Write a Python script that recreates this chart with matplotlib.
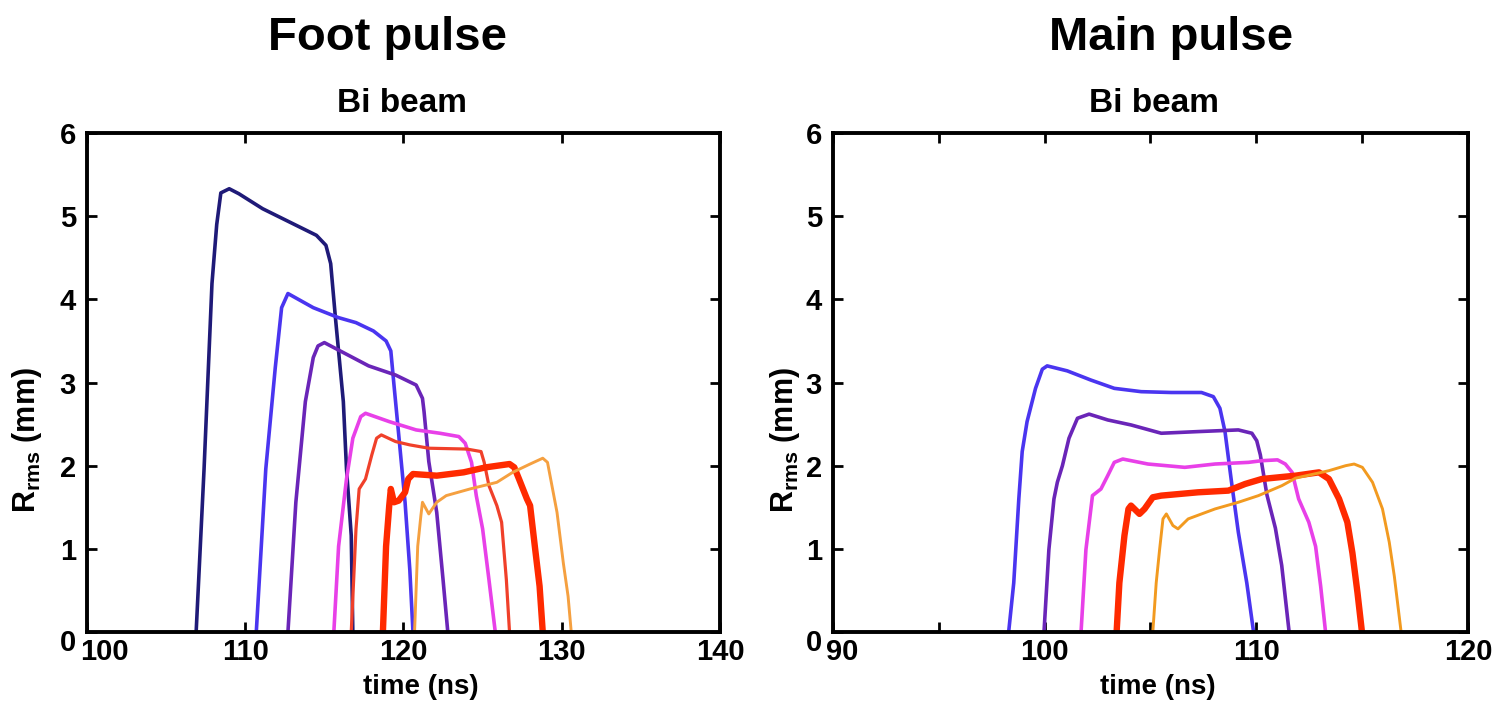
import matplotlib
matplotlib.use("Agg")
import matplotlib.pyplot as plt
from matplotlib.transforms import ScaledTranslation

plt.rcParams['font.family'] = ['Liberation Sans', 'DejaVu Sans']
plt.rcParams['font.weight'] = 'bold'
plt.rcParams['mathtext.default'] = 'regular'

# ---- Foot pulse (left panel) ----
foot_navy_t = [106.9, 107.4, 107.9, 108.2, 108.46, 108.99, 109.6, 111.1, 112.8, 114.5, 115.1, 115.4, 115.7, 116.2, 116.4, 116.7, 116.8]
foot_navy_r = [0.0, 1.96, 4.19, 4.90, 5.28, 5.33, 5.27, 5.09, 4.93, 4.77, 4.65, 4.43, 3.78, 2.77, 1.96, 1.16, 0.0]

foot_blue_t = [110.7, 111.3, 111.9, 112.3, 112.7, 114.3, 115.9, 117.0, 118.1, 118.9, 119.2, 119.4, 119.7, 120.1, 120.4, 120.6]
foot_blue_r = [0.0, 1.96, 3.18, 3.90, 4.07, 3.90, 3.78, 3.72, 3.62, 3.50, 3.38, 2.97, 2.37, 1.56, 0.75, 0.0]

foot_purple_t = [112.7, 113.2, 113.8, 114.3, 114.6, 115.0, 116.4, 117.8, 119.5, 120.8, 121.2, 121.3, 121.6, 122.1, 122.5, 122.8]
foot_purple_r = [0.0, 1.56, 2.77, 3.30, 3.44, 3.48, 3.34, 3.20, 3.09, 2.97, 2.81, 2.65, 2.05, 1.44, 0.63, 0.0]

foot_magenta_t = [115.6, 115.9, 116.4, 116.8, 117.3, 117.6, 119.1, 120.8, 122.3, 123.5, 123.9, 124.3, 124.6, 125.0, 125.4, 125.8]
foot_magenta_r = [0.0, 1.03, 1.84, 2.33, 2.59, 2.63, 2.53, 2.43, 2.39, 2.35, 2.27, 2.04, 1.64, 1.24, 0.63, 0.0]

foot_red_t = [116.7, 117.0, 117.2, 117.6, 118.0, 118.3, 118.6, 119.5, 120.4, 121.6, 124.0, 124.9, 125.1, 125.4, 125.9, 126.2, 126.5, 126.7]
foot_red_r = [0.0, 1.24, 1.72, 1.84, 2.13, 2.33, 2.37, 2.29, 2.25, 2.21, 2.20, 2.17, 2.04, 1.76, 1.52, 1.32, 0.63, 0.0]

foot_thick_t = [118.7, 118.9, 119.1, 119.2, 119.4, 119.7, 120.1, 120.3, 120.6, 122.1, 123.8, 125.2, 126.7, 127.0, 127.3, 127.8, 128.0, 128.3, 128.6, 128.8]
foot_thick_r = [0.0, 1.03, 1.52, 1.72, 1.56, 1.58, 1.68, 1.84, 1.90, 1.88, 1.92, 1.98, 2.02, 1.98, 1.84, 1.60, 1.52, 1.03, 0.55, 0.0]

foot_orange_t = [120.7, 120.9, 121.1, 121.2, 121.6, 122.1, 122.7, 124.2, 125.9, 126.9, 128.0, 128.8, 129.1, 129.7, 130.1, 130.4, 130.6]
foot_orange_r = [0.0, 1.03, 1.40, 1.56, 1.42, 1.56, 1.64, 1.72, 1.80, 1.92, 2.02, 2.09, 2.04, 1.44, 0.83, 0.43, 0.0]

# ---- Main pulse (right panel) ----
main_blue_t = [98.3, 98.54, 98.78, 98.94, 99.17, 99.57, 99.89, 100.12, 101.07, 102.18, 103.29, 104.56, 105.98, 107.41, 107.97, 108.28, 108.52, 108.83, 109.15, 109.55, 109.87]
main_blue_r = [0.0, 0.59, 1.60, 2.17, 2.53, 2.93, 3.16, 3.20, 3.14, 3.03, 2.93, 2.89, 2.88, 2.88, 2.83, 2.69, 2.41, 1.80, 1.20, 0.59, 0.0]

main_purple_t = [99.97, 100.2, 100.44, 100.6, 100.84, 101.15, 101.55, 102.1, 102.98, 104.08, 105.51, 107.25, 109.15, 109.79, 110.02, 110.19, 110.5, 110.9, 111.2, 111.55]
main_purple_r = [0.0, 0.99, 1.60, 1.80, 2.00, 2.33, 2.57, 2.62, 2.55, 2.49, 2.39, 2.41, 2.43, 2.39, 2.30, 2.13, 1.65, 1.25, 0.80, 0.0]

main_magenta_t = [101.72, 101.95, 102.26, 102.66, 102.98, 103.29, 103.69, 104.88, 106.62, 108.05, 109.63, 110.26, 111.0, 111.37, 111.69, 112.0, 112.48, 112.8, 113.04, 113.27]
main_magenta_r = [0.0, 0.99, 1.64, 1.72, 1.88, 2.04, 2.08, 2.02, 1.98, 2.02, 2.04, 2.06, 2.07, 2.02, 1.92, 1.60, 1.32, 1.03, 0.55, 0.0]

main_thick_t = [103.4, 103.53, 103.77, 103.96, 104.08, 104.48, 104.72, 105.11, 105.51, 107.25, 108.68, 109.47, 110.26, 111.85, 112.96, 113.43, 113.91, 114.30, 114.54, 114.78, 114.99]
main_thick_r = [0.0, 0.59, 1.16, 1.48, 1.52, 1.42, 1.48, 1.62, 1.64, 1.68, 1.70, 1.78, 1.84, 1.88, 1.92, 1.84, 1.60, 1.32, 0.95, 0.47, 0.0]

main_orange_t = [105.11, 105.27, 105.43, 105.59, 105.75, 106.06, 106.3, 106.78, 108.05, 109.15, 110.1, 111.21, 111.85, 113.43, 114.22, 114.62, 115.01, 115.49, 115.96, 116.28, 116.52, 116.84]
main_orange_r = [0.0, 0.59, 0.99, 1.36, 1.42, 1.28, 1.24, 1.36, 1.48, 1.56, 1.64, 1.76, 1.85, 1.94, 2.00, 2.02, 1.98, 1.80, 1.48, 1.08, 0.67, 0.0]

foot_xticks = [100, 110, 120, 130, 140]
foot_xlabels = ['100', '110', '120', '130', '140']
main_xticks = [90, 95, 100, 105, 110, 115, 120]
main_xlabels = ['90', '', '100', '', '110', '', '120']
yticks = [0, 1, 2, 3, 4, 5, 6]

NAVY = '#1f1a78'
BLUE = '#4a35f0'
PURPLE = '#6a25b8'
MAGENTA = '#e840e8'
RED = '#f0402a'
THICK_RED = '#ff2a00'
ORANGE = '#f5a040'

fig = plt.figure(figsize=(15.12, 7.02), dpi=100)
ax1 = fig.add_axes([0.0575, 0.0997, 0.4187, 0.7108])
ax2 = fig.add_axes([0.5509, 0.0997, 0.42, 0.7108])

line_kw = dict(solid_joinstyle='round', solid_capstyle='round')
ax1.plot(foot_navy_t, foot_navy_r, color=NAVY, lw=2.6, **line_kw)
ax1.plot(foot_blue_t, foot_blue_r, color=BLUE, lw=2.6, **line_kw)
ax1.plot(foot_purple_t, foot_purple_r, color=PURPLE, lw=2.6, **line_kw)
ax1.plot(foot_magenta_t, foot_magenta_r, color=MAGENTA, lw=2.6, **line_kw)
ax1.plot(foot_red_t, foot_red_r, color=RED, lw=2.3, **line_kw)
ax1.plot(foot_thick_t, foot_thick_r, color=THICK_RED, lw=4.6, **line_kw)
ax1.plot(foot_orange_t, foot_orange_r, color=ORANGE, lw=2.1, **line_kw)

ax2.plot(main_blue_t, main_blue_r, color=BLUE, lw=2.6, **line_kw)
ax2.plot(main_purple_t, main_purple_r, color=PURPLE, lw=2.6, **line_kw)
ax2.plot(main_magenta_t, main_magenta_r, color=MAGENTA, lw=2.6, **line_kw)
ax2.plot(main_thick_t, main_thick_r, color=THICK_RED, lw=4.6, **line_kw)
ax2.plot(main_orange_t, main_orange_r, color='#f29a20', lw=2.1, **line_kw)

ax1.set_xlim(100, 140)
ax2.set_xlim(90, 120)
ax1.set_xticks(foot_xticks)
ax1.set_xticklabels(foot_xlabels)
ax2.set_xticks(main_xticks)
ax2.set_xticklabels(main_xlabels)

for ax, dx in ((ax1, 0.17), (ax2, 0.09)):
    ax.set_ylim(0, 6)
    ax.set_yticks(yticks)
    ax.tick_params(direction='in', length=7, width=2, top=True, right=True,
                   labelsize=21, colors='black')
    ax.tick_params(axis='x', pad=4)
    ax.tick_params(axis='y', pad=8)
    for sp in ax.spines.values():
        sp.set_linewidth(2.8)
    for lbl in ax.get_xticklabels() + ax.get_yticklabels():
        lbl.set_fontweight('bold')
    # MATLAB-style shifted corner labels
    first_x = ax.get_xticklabels()[0]
    first_x.set_transform(first_x.get_transform() + ScaledTranslation(dx, 0, fig.dpi_scale_trans))
    first_y = ax.get_yticklabels()[0]
    first_y.set_transform(first_y.get_transform() + ScaledTranslation(0, -0.08, fig.dpi_scale_trans))

# titles, subtitles and axis labels
fig.text(0.2566, 0.929, 'Foot pulse', fontsize=34, fontweight='bold', ha='center', va='baseline')
fig.text(0.7745, 0.929, 'Main pulse', fontsize=34, fontweight='bold', ha='center', va='baseline')
fig.text(0.2659, 0.840, 'Bi beam', fontsize=24, fontweight='bold', ha='center', va='baseline')
fig.text(0.7632, 0.840, 'Bi beam', fontsize=24, fontweight='bold', ha='center', va='baseline')

fig.text(0.278, 0.012, 'time (ns)', fontsize=20, fontweight='bold', ha='center', va='baseline')
fig.text(0.766, 0.012, 'time (ns)', fontsize=20, fontweight='bold', ha='center', va='baseline')

fig.text(0.018, 0.373, 'R$_{rms}$ (mm)', fontsize=22, fontweight='bold', rotation=90, ha='center', va='center')
fig.text(0.519, 0.373, 'R$_{rms}$ (mm)', fontsize=22, fontweight='bold', rotation=90, ha='center', va='center')

fig.savefig('out.png', dpi=100)
